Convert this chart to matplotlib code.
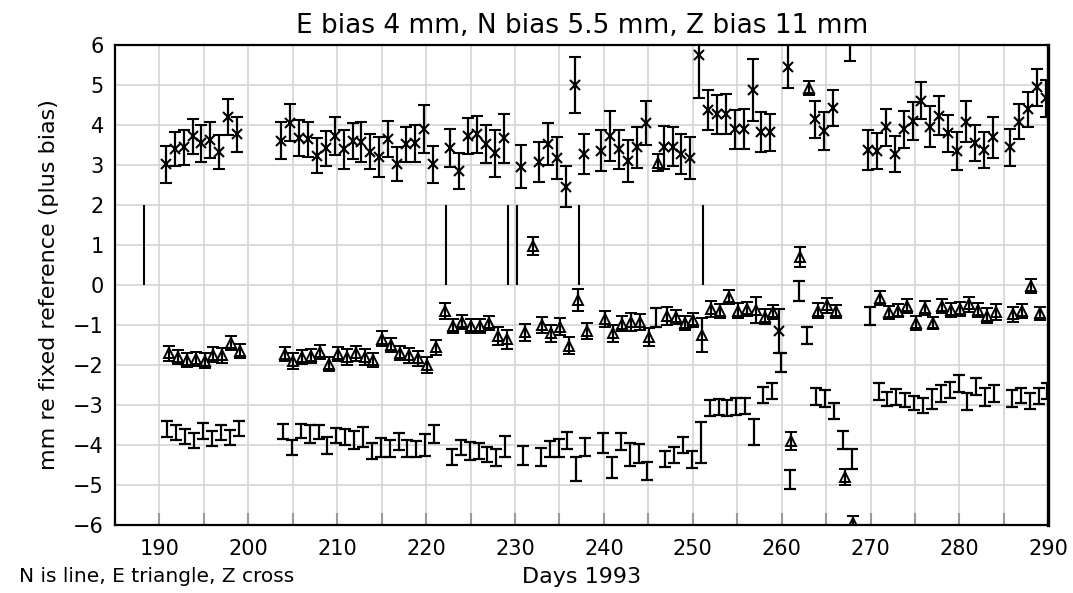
import matplotlib
matplotlib.use("Agg")
import matplotlib.pyplot as plt
import numpy as np

# ---------------- data ----------------
z_days = [191,192,193,194,195,196,197,198,199,
          204,205,206,207,208,209,210,211,212,213,214,215,216,217,218,219,220,221,
          223,224,225,226,227,228,229,
          231,233,234,235,236,237,238,240,241,242,243,244,245,
          247,248,249,250,251,252,253,254,255,256,257,258,259,260,261,
          264,265,266,268,
          270,271,272,273,274,275,276,277,278,279,280,281,282,283,284,
          286,287,288,289,290]
z_vals = [3.02,3.40,3.44,3.72,3.54,3.62,3.33,4.19,3.77,
          3.61,4.06,3.68,3.64,3.23,3.42,3.72,3.39,3.60,3.57,3.33,3.19,3.65,3.02,3.52,3.54,3.90,3.02,
          3.42,2.85,3.72,3.77,3.53,3.29,3.67,
          2.96,3.07,3.53,3.17,2.46,5.00,3.27,3.36,3.72,3.39,3.10,3.44,4.04,
          3.44,3.46,3.27,3.18,5.75,4.375,4.27,4.27,3.89,3.89,4.875,3.82,3.82,-1.15,5.46,
          4.14,3.85,4.43,6.25,
          3.375,3.35,3.94,3.27,3.89,4.10,4.61,3.96,4.23,3.79,3.35,4.08,3.56,3.375,3.69,
          3.44,4.08,4.39,4.94,4.67]
z_errs = [0.46,0.43,0.44,0.44,0.46,0.45,0.43,0.45,0.44,
          0.47,0.47,0.45,0.43,0.44,0.44,0.47,0.48,0.45,0.50,0.44,0.50,0.46,0.43,0.44,0.47,0.61,0.46,
          0.48,0.45,0.45,0.46,0.47,0.58,0.61,
          0.53,0.50,0.52,0.52,0.51,0.70,0.50,0.52,0.62,0.48,0.52,0.52,0.55,
          0.54,0.49,0.50,0.52,1.07,0.49,0.49,0.50,0.49,0.50,0.77,0.50,0.46,0.56,0.53,
          0.47,0.47,0.45,0.65,
          0.51,0.46,0.46,0.45,0.46,0.47,0.47,0.51,0.49,0.47,0.47,0.51,0.45,0.44,0.51,
          0.46,0.44,0.43,0.46,0.46]

e_days = [191,192,193,194,195,196,197,198,199,
          204,205,206,207,208,209,210,211,212,213,214,215,216,217,218,219,220,221,
          222,223,224,225,226,227,228,229,
          231,232,233,234,235,236,237,238,240,241,242,243,244,245,246,
          247,248,249,250,251,252,253,254,255,256,257,258,259,
          261,262,263,264,265,266,267,268,
          271,272,273,274,275,276,277,278,279,280,281,282,283,284,
          286,287,288,289]
e_vals = [-1.71,-1.80,-1.87,-1.85,-1.89,-1.74,-1.76,-1.45,-1.65,
          -1.73,-1.90,-1.80,-1.78,-1.68,-1.97,-1.73,-1.80,-1.71,-1.80,-1.87,-1.34,-1.50,-1.70,-1.76,-1.83,-2.00,-1.56,
          -0.65,-1.03,-0.93,-1.03,-1.03,-0.95,-1.28,-1.36,
          -1.18,0.975,-0.99,-1.21,-1.04,-1.52,-0.375,-1.15,-0.85,-1.21,-0.97,-0.93,-0.93,-1.30,3.06,
          -0.78,-0.80,-0.95,-0.87,-1.25,-0.60,-0.65,-0.30,-0.64,-0.60,-0.625,-0.79,-0.68,
          -3.90,0.71,4.92,-0.64,-0.51,-0.66,-4.80,-5.95,
          -0.32,-0.68,-0.64,-0.53,-0.95,-0.57,-0.95,-0.53,-0.62,-0.60,-0.48,-0.62,-0.77,-0.675,
          -0.73,-0.65,-0.03,-0.71]
e_errs = [0.18,0.18,0.18,0.18,0.18,0.18,0.18,0.18,0.18,
          0.18,0.19,0.18,0.18,0.18,0.18,0.18,0.19,0.18,0.19,0.18,0.18,0.18,0.18,0.18,0.19,0.21,0.19,
          0.19,0.18,0.18,0.18,0.18,0.18,0.22,0.24,
          0.21,0.22,0.20,0.21,0.21,0.21,0.27,0.20,0.19,0.21,0.19,0.22,0.20,0.22,0.22,
          0.22,0.17,0.18,0.18,0.42,0.19,0.18,0.18,0.18,0.18,0.32,0.18,0.18,
          0.23,0.25,0.18,0.18,0.18,0.17,0.20,0.18,
          0.18,0.16,0.17,0.18,0.18,0.18,0.16,0.18,0.18,0.18,0.19,0.18,0.19,0.20,
          0.19,0.18,0.18,0.17]

n_days = [191,192,193,194,195,196,197,198,199,
          204,205,206,207,208,209,210,211,212,213,214,215,216,217,218,219,220,221,
          223,224,225,226,227,228,229,
          231,233,234,235,236,237,238,240,241,242,243,244,245,246,
          247,248,249,250,251,252,253,254,255,256,257,258,259,260,261,262,263,
          264,265,266,267,268,270,
          271,272,273,274,275,276,277,278,279,280,281,282,283,284,
          286,287,288,289,290]
n_vals = [-3.60,-3.69,-3.79,-3.89,-3.65,-3.84,-3.68,-3.81,-3.58,
          -3.67,-4.06,-3.65,-3.73,-3.68,-4.02,-3.76,-3.80,-3.88,-3.80,-4.15,-4.06,-4.08,-3.91,-4.08,-4.09,-4.00,-3.73,
          -4.30,-4.06,-4.15,-4.15,-4.23,-4.31,-4.04,
          -4.26,-4.30,-4.10,-4.08,-3.89,-4.59,-4.05,-3.94,-4.56,-3.92,-4.24,-4.21,-4.65,-0.81,
          -4.36,-4.25,-4.00,-4.37,-3.93,-3.07,-3.04,-3.07,-3.03,-3.02,-3.68,-2.74,-2.65,-1.94,-4.87,-0.14,-1.26,
          -2.79,-2.84,-3.15,-3.875,-4.35,-0.77,
          -2.67,-2.85,-2.80,-2.875,-2.95,-3.01,-2.86,-2.71,-2.625,-2.46,-2.92,-2.54,-2.80,-2.71,
          -2.83,-2.77,-2.90,-2.78,-2.65]
n_errs = [0.19,0.19,0.19,0.19,0.19,0.19,0.19,0.19,0.19,
          0.19,0.19,0.18,0.23,0.18,0.21,0.18,0.20,0.23,0.24,0.19,0.23,0.21,0.22,0.21,0.20,0.28,0.22,
          0.20,0.19,0.23,0.19,0.19,0.21,0.26,
          0.24,0.22,0.21,0.22,0.22,0.30,0.23,0.25,0.27,0.21,0.28,0.23,0.23,0.24,
          0.20,0.21,0.21,0.21,0.51,0.20,0.20,0.20,0.21,0.20,0.32,0.20,0.19,0.23,0.24,0.25,0.22,
          0.21,0.21,0.19,0.23,0.24,0.23,
          0.21,0.18,0.20,0.17,0.18,0.18,0.25,0.21,0.21,0.21,0.21,0.21,0.22,0.21,
          0.21,0.19,0.19,0.20,0.19]

# N "line" markers (vertical strokes from 0 to 2)
line_days = [188.25, 222.24, 229.2, 230.2, 237.2, 251.16]
line_low, line_high = 0.0, 2.0

title = "E bias 4 mm, N bias 5.5 mm, Z bias 11 mm"
xlabel = "Days 1993"
ylabel = "mm re fixed reference (plus bias)"
note = "N is line, E triangle, Z cross"
x_ticks = list(range(190, 291, 10))
y_ticks = list(range(-6, 7))

# per-series time-of-day offsets (observation time within the day)
z_off, n_off, e_off = -0.28, -0.10, 0.07

# ---------------- figure ----------------
plt.rcParams["font.family"] = ["DejaVu Sans"]

fig = plt.figure(figsize=(10.73, 5.93), dpi=100)
ax = fig.add_axes([0.1072, 0.1147, 0.977 - 0.1072, 0.9241 - 0.1147])

ax.set_xlim(187.9, 290)
ax.set_ylim(-6, 6)

ax.set_xticks(np.arange(185, 291, 5), minor=True)
ax.set_xticks(x_ticks)
ax.set_yticks(y_ticks)
ax.set_yticklabels([("\u2212" + str(-v)) if v < 0 else str(v) for v in y_ticks])
ax.grid(True, which="both", color="#d4d4d4", lw=1.2, zorder=0)
ax.set_axisbelow(True)
ax.tick_params(axis="both", which="both", direction="in", length=0, labelsize=15,
               colors="black")
ax.tick_params(axis="x", which="both", bottom=True, length=9, color="#9a9a9a", width=1.5, pad=10)
ax.tick_params(axis="y", pad=8)
for s in ax.spines.values():
    s.set_linewidth(1.6)
ax.spines["right"].set_linewidth(2.4)

ebkw = dict(color="black", ecolor="black", elinewidth=1.6, capsize=4.2, capthick=1.6,
            linestyle="none", clip_on=True)

ax.errorbar(np.array(z_days) + z_off, z_vals, yerr=z_errs, marker="x", ms=7, mew=1.5, **ebkw)
ax.errorbar(np.array(e_days) + e_off, e_vals, yerr=e_errs, marker="^", ms=7, mew=1.4,
            mfc="none", **ebkw)
ax.errorbar(np.array(n_days) + n_off, n_vals, yerr=n_errs, marker="none", **ebkw)

ax.vlines(line_days, line_low, line_high, colors="black", lw=1.5)

ax.set_title(title, fontsize=19, pad=9)
ax.set_xlabel(xlabel, fontsize=16, labelpad=6)
ax.set_ylabel(ylabel, fontsize=16, labelpad=10)
fig.text(0.018, 0.012, note, fontsize=14.5, ha="left", va="bottom")

fig.savefig("out.png", dpi=100)
